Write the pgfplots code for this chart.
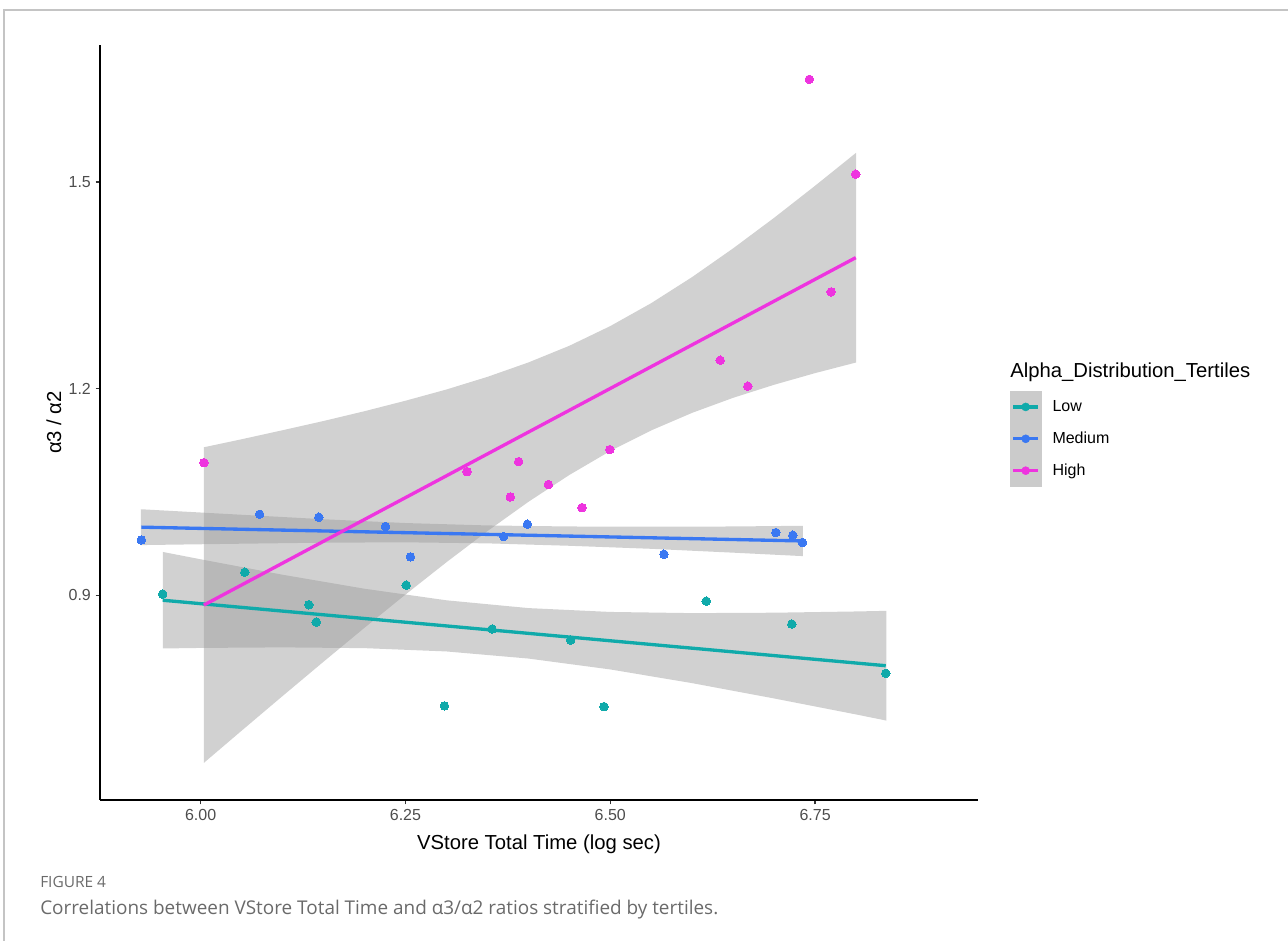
\documentclass[border=0pt]{standalone}
\usepackage{pgfplots}
\pgfplotsset{compat=1.18}
\usepackage{fontspec}
\setmainfont{Liberation Sans}
\newfontfamily\capfont{Open Sans}
\definecolor{lowc}{HTML}{10AAAA}
\definecolor{medc}{HTML}{3A78F2}
\definecolor{highc}{HTML}{EE34DF}
\definecolor{ribc}{HTML}{999999}
\definecolor{keyc}{HTML}{CBCBCB}
\definecolor{ticktext}{HTML}{4D4D4D}
\definecolor{framec}{HTML}{C4C4C4}
\definecolor{capgray}{HTML}{6A6A6A}
\begin{document}
\begin{tikzpicture}
\path[use as bounding box] (0,0) rectangle (966pt,705.75pt);
\draw[framec, line width=0.9pt] (3pt,0pt) -- (3pt,698.25pt) -- (966pt,698.25pt);
\begin{axis}[
  at={(75pt,105.75pt)}, anchor=south west,
  scale only axis, width=658.5pt, height=566.25pt,
  xmin=5.8772, xmax=6.9488, ymin=0.6032, ymax=1.6985,
  axis lines=left, axis line style={-, line width=1.1pt, black},
  tick align=outside, major tick length=3.3pt,
  tick style={line width=1.1pt, color={rgb,255:red,51;green,51;blue,51}},
  xtick={6,6.25,6.5,6.75}, xticklabels={6.00,6.25,6.50,6.75},
  ytick={0.9,1.2,1.5}, yticklabels={0.9,1.2,1.5},
  ticklabel style={font=\fontsize{12}{14}\selectfont, text=ticktext},
  /pgf/number format/assume math mode=true,
  xlabel={VStore Total Time (log sec)}, ylabel={α3 / α2},
  label style={font=\fontsize{15.2}{17}\selectfont},
  xlabel style={at={(axis description cs:0.5,-0.058)}, anchor=center},
  ylabel style={at={(axis description cs:-0.0525,0.5)}, anchor=center},
  legend cell align=left,
  legend style={at={(axis description cs:1.0364,0.5417)}, anchor=north west,
    draw=none, fill=none, inner sep=0pt, outer sep=0pt, row sep=0pt,
    font=\fontsize{12}{14}\selectfont, nodes={inner sep=0pt}},
  legend image code/.code={
    \fill[keyc] (0pt,-11.75pt) rectangle (23.25pt,11.75pt);
    \draw[#1, line width=2.4pt] (2.25pt,0pt) -- (21pt,0pt);
    \fill[#1] (11.6pt,0pt) circle (3pt);
  },
]
% ---- points ----
\addplot[forget plot, only marks, mark=*, mark size=3.2pt, color=lowc, mark options={fill=lowc, draw=lowc, line width=0pt}] coordinates {
(5.9537,0.9019) (6.0540,0.9337) (6.1321,0.8864) (6.1411,0.8613) (6.2509,0.9149) (6.2976,0.7397)
(6.3557,0.8512) (6.4516,0.8353) (6.4923,0.7387) (6.6171,0.8917) (6.7216,0.8584) (6.8362,0.7870)};
\addplot[forget plot, only marks, mark=*, mark size=3.2pt, color=medc, mark options={fill=medc, draw=medc, line width=0pt}] coordinates {
(5.9277,0.9805) (6.0720,1.0177) (6.1443,1.0134) (6.2256,0.9999) (6.2561,0.9559) (6.3699,0.9854)
(6.3988,1.0033) (6.5655,0.9598) (6.7021,0.9912) (6.7228,0.9873) (6.7345,0.9768)};
\addplot[forget plot, only marks, mark=*, mark size=3.2pt, color=highc, mark options={fill=highc, draw=highc, line width=0pt}] coordinates {
(6.0040,1.0926) (6.3252,1.0796) (6.3780,1.0428) (6.3882,1.0941) (6.4244,1.0608) (6.4655,1.0274)
(6.4994,1.1116) (6.6341,1.2412) (6.6679,1.2035) (6.7430,1.6487) (6.7695,1.3403) (6.7996,1.5111)};
% ---- confidence ribbons ----
\addplot[forget plot, draw=none, fill=ribc, fill opacity=0.45] coordinates {
(5.954,0.963) (6.0,0.9524) (6.1,0.9300) (6.2,0.9097) (6.3,0.8929) (6.4,0.8816) (6.5,0.8760)
(6.6,0.8743) (6.7,0.8749) (6.8,0.8767) (6.837,0.8776)
(6.837,0.7184) (6.8,0.7273) (6.7,0.7505) (6.6,0.7727) (6.5,0.7926) (6.4,0.8084) (6.3,0.8187)
(6.2,0.8235) (6.1,0.8246) (6.0,0.8238) (5.954,0.823)} -- cycle;
\addplot[forget plot, draw=none, fill=ribc, fill opacity=0.45] coordinates {
(5.927,1.025) (6.05,1.017) (6.15,1.0105) (6.25,1.005) (6.35,1.0015) (6.45,1.000) (6.55,0.9996)
(6.65,1.000) (6.735,1.001)
(6.735,0.957) (6.65,0.962) (6.55,0.9676) (6.45,0.972) (6.35,0.9755) (6.25,0.977) (6.15,0.9765)
(6.05,0.975) (5.927,0.973)} -- cycle;
\addplot[forget plot, draw=none, fill=ribc, fill opacity=0.45] coordinates {
(6.004,1.1149) (6.05,1.1265) (6.10,1.1396) (6.15,1.1530) (6.20,1.1672) (6.25,1.1824) (6.30,1.1987)
(6.35,1.2170) (6.40,1.2379) (6.45,1.2621) (6.50,1.2907) (6.55,1.3240) (6.60,1.3619) (6.65,1.4035)
(6.70,1.4478) (6.75,1.4943) (6.80,1.5421)
(6.80,1.2379) (6.75,1.2225) (6.70,1.2056) (6.65,1.1867) (6.60,1.1649) (6.55,1.1394) (6.50,1.1095)
(6.45,1.0747) (6.40,1.0357) (6.35,0.9932) (6.30,0.9481) (6.25,0.9012) (6.20,0.8530) (6.15,0.8038)
(6.10,0.7540) (6.05,0.7037) (6.004,0.6571)} -- cycle;
% ---- fitted lines ----
\addplot[forget plot, color=lowc, line width=2.5pt] coordinates {(5.9537,0.893) (6.8362,0.798)};
\addplot[forget plot, color=medc, line width=2.5pt] coordinates {(5.9277,0.999) (6.7345,0.979)};
\addplot[forget plot, color=highc, line width=2.5pt] coordinates {(6.004,0.886) (6.7996,1.390)};
% ---- legend ----
\addlegendimage{draw=lowc, fill=lowc}
\addlegendentry{\hspace*{8.25pt}Low}
\addlegendimage{draw=medc, fill=medc}
\addlegendentry{\hspace*{8.25pt}Medium}
\addlegendimage{draw=highc, fill=highc}
\addlegendentry{\hspace*{8.25pt}High}
\end{axis}
\node[anchor=west, inner sep=0pt, font=\fontsize{15.2}{17}\selectfont] at (757.5pt,426.2pt) {Alpha\_Distribution\_Tertiles};
\node[anchor=base west, inner sep=0pt, text=capgray, font=\capfont\fontsize{11.6}{13}\selectfont] at (30pt,39.75pt) {FIGURE 4};
\node[anchor=base west, inner sep=0pt, text=capgray, font=\capfont\fontsize{14.2}{16}\selectfont] at (30pt,19.5pt) {Correlations between VStore Total Time and α3/α2 ratios stratified by tertiles.};
\end{tikzpicture}
\end{document}
